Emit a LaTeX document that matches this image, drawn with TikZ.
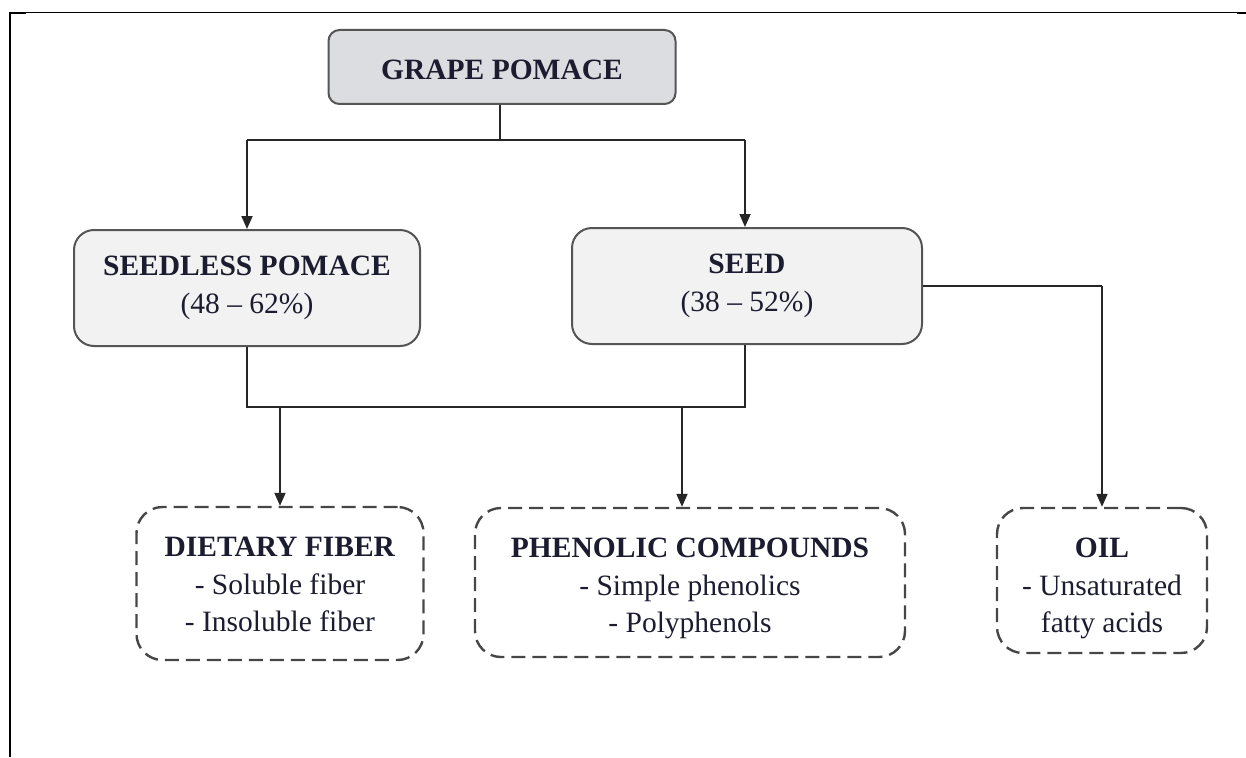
\documentclass[tikz,border=0pt]{standalone}
\usepackage{fontspec}
\setmainfont{Liberation Serif}
\usetikzlibrary{arrows.meta,calc}
\definecolor{txt}{RGB}{28,28,48}
\definecolor{boxline}{RGB}{85,85,85}
\definecolor{dashline}{RGB}{70,70,70}
\definecolor{topfill}{RGB}{220,221,224}
\definecolor{midfill}{RGB}{242,242,242}
\begin{document}
\begin{tikzpicture}[x=1pt,y=-1pt,
  font=\fontsize{29.5}{37.5}\selectfont,
  basebox/.style={align=center, inner sep=0pt, text=txt},
  topbox/.style={basebox, draw=boxline, line width=2pt, fill=topfill, rounded corners=11pt},
  midbox/.style={basebox, draw=boxline, line width=2pt, fill=midfill, rounded corners=20pt},
  dashbox/.style={basebox, draw=dashline, line width=2.4pt, dash pattern=on 14pt off 7pt, rounded corners=26pt},
  conn/.style={line width=1.8pt, draw=black!85},
  arr/.style={conn, -{Triangle[length=13pt,width=11pt]}}
]
\useasboundingbox (0,0) rectangle (1246,757);
% frame
\draw[line width=1.2pt] (10,12.5) -- (1246,12.5);
\draw[line width=2.4pt] (10.2,12) -- (10.2,757);
\draw[line width=2.4pt] (9,13) -- (26,13);
\draw[line width=2.4pt] (1237,13) -- (1246,13);

% nodes
\node[topbox, minimum width=347pt, minimum height=74pt] (grape) at (502,67) {\rule{0pt}{26pt}\textbf{GRAPE POMACE}};
\node[midbox, minimum width=346pt, minimum height=116pt] (seedless) at (247,288) {\textbf{SEEDLESS POMACE}\\[1pt](48 -- 62\%)};
\node[midbox, minimum width=350pt, minimum height=116pt] (seed) at (747,286) {\textbf{SEED}\\[1pt](38 -- 52\%)};
\node[dashbox, minimum width=287pt, minimum height=153pt] (fiber) at (280,583.5) {\rule{0pt}{22pt}\textbf{DIETARY FIBER}\\- Soluble fiber\\- Insoluble fiber};
\node[dashbox, minimum width=430pt, minimum height=149pt] (phen) at (690,582.5) {\rule{0pt}{32pt}\textbf{PHENOLIC COMPOUNDS}\\- Simple phenolics\\- Polyphenols};
\node[dashbox, minimum width=210pt, minimum height=145pt] (oil) at (1102,580.5) {\rule{0pt}{36pt}\textbf{OIL}\\- Unsaturated\\fatty acids};

% coordinates
\coordinate (split) at (500,140);
\coordinate (splitL) at (247,140);
\coordinate (splitR) at (745,140);
\coordinate (joinL) at (247,407);
\coordinate (joinR) at (745,407);
\coordinate (fiberIn) at (280,407);
\coordinate (phenIn) at (682,407);
\coordinate (oilCorner) at (1102,286);

% connectors
\draw[conn] (grape.south -| split) -- (split);
\draw[conn] (splitL) -- (splitR);
\draw[arr] (splitL) -- (seedless.north);
\draw[arr] (splitR) -- (seed.north -| splitR);
\draw[conn] (seedless.south) -- (joinL) -- (joinR) -- (seed.south -| joinR);
\draw[arr] (fiberIn) -- (fiber.north);
\draw[arr] (phenIn) -- (phen.north -| phenIn);
\draw[conn] (seed.east) -- (oilCorner);
\draw[arr] (oilCorner) -- (oil.north);
\end{tikzpicture}
\end{document}
